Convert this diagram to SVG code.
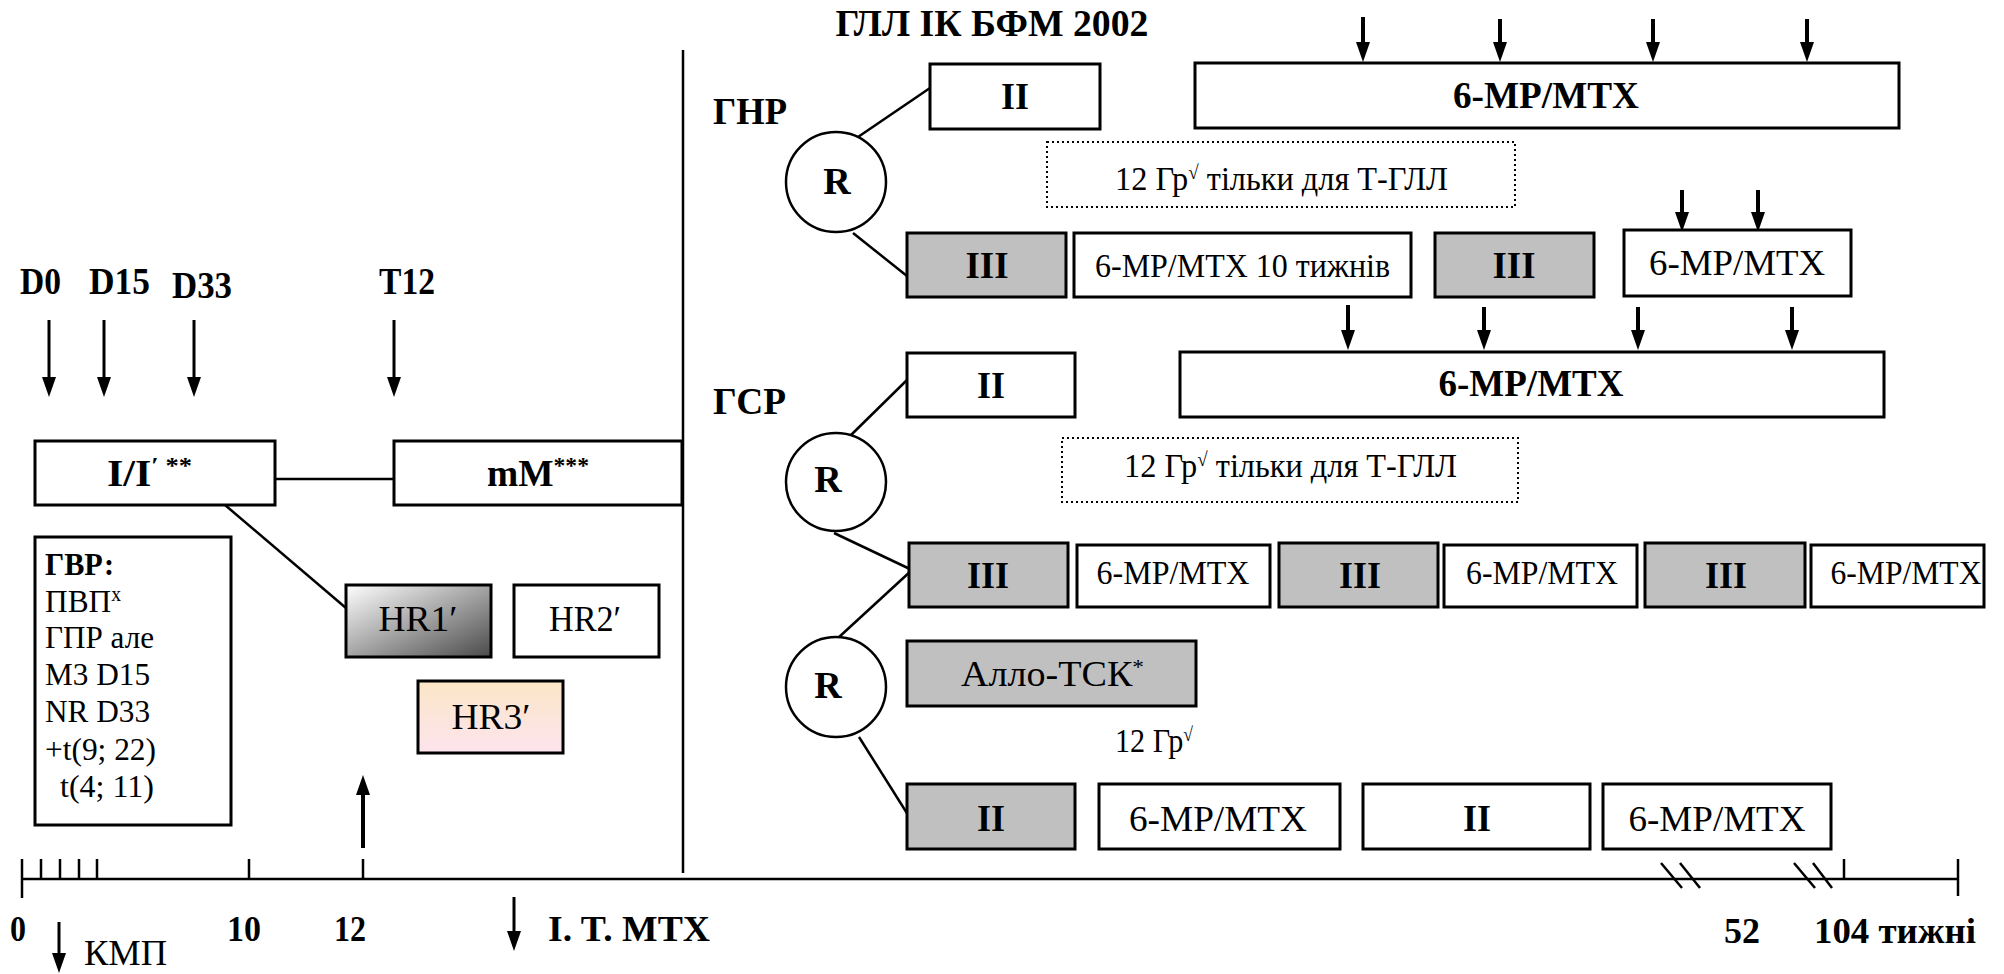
<svg xmlns="http://www.w3.org/2000/svg" width="2004" height="974" viewBox="0 0 2004 974">
<style>
.t{font-family:"Liberation Serif","Times New Roman",serif;fill:#000}
.b{font-weight:bold}
.box{fill:#fff;stroke:#000;stroke-width:3}
.gray{fill:#c0c0c0;stroke:#000;stroke-width:3}
.dot{fill:none;stroke:#000;stroke-width:2;stroke-dasharray:2 3}
.ln{stroke:#000;stroke-width:2.5;fill:none}
.ar{stroke:#000;stroke-width:3;fill:none;marker-end:url(#ah)}
.ar4{stroke:#000;stroke-width:4;fill:none;marker-end:url(#ah)}
.ell{fill:#fff;stroke:#000;stroke-width:2.5}
</style>
<defs>
<marker id="ah" markerUnits="userSpaceOnUse" viewBox="0 0 20 14" markerWidth="20" markerHeight="14" refX="14" refY="7" orient="auto">
<path d="M0,0 L20,7 L0,14 z" fill="#000"/>
</marker>
<linearGradient id="g1" x1="0" y1="0" x2="1" y2="1">
<stop offset="0" stop-color="#ffffff"/>
<stop offset="1" stop-color="#4a4a4a"/>
</linearGradient>
<linearGradient id="g3" x1="0" y1="0" x2="0" y2="1">
<stop offset="0" stop-color="#fbe6c6"/>
<stop offset="1" stop-color="#fde4ee"/>
</linearGradient>
</defs>
<rect width="2004" height="974" fill="#fff"/>

<g id="connectors">
<line class="ln" x1="683" y1="50" x2="683" y2="873"/>
<line class="ln" x1="275" y1="479" x2="394" y2="479"/>
<line class="ln" x1="225" y1="505" x2="346" y2="608"/>
<line class="ln" x1="858" y1="137" x2="930" y2="88"/>
<line class="ln" x1="853" y1="233" x2="912" y2="280"/>
<line class="ln" x1="849" y1="437" x2="907" y2="380"/>
<line class="ln" x1="834" y1="533" x2="912" y2="570"/>
<line class="ln" x1="912" y1="570" x2="838" y2="638"/>
<line class="ln" x1="859" y1="737" x2="910" y2="818"/>
<line class="ar" x1="49" y1="320" x2="49" y2="391"/>
<line class="ar" x1="104" y1="320" x2="104" y2="391"/>
<line class="ar" x1="194" y1="320" x2="194" y2="391"/>
<line class="ar" x1="394" y1="320" x2="394" y2="391"/>
<line class="ar4" x1="363" y1="848" x2="363" y2="781"/>
<line class="ar" x1="59" y1="922" x2="59" y2="967"/>
<line class="ar" x1="514" y1="897" x2="514" y2="945"/>
<line class="ar4" x1="1363" y1="17" x2="1363" y2="56"/>
<line class="ar4" x1="1500" y1="19" x2="1500" y2="56"/>
<line class="ar4" x1="1653" y1="19" x2="1653" y2="56"/>
<line class="ar4" x1="1807" y1="19" x2="1807" y2="56"/>
<line class="ar4" x1="1682" y1="190" x2="1682" y2="226"/>
<line class="ar4" x1="1758" y1="190" x2="1758" y2="226"/>
<line class="ar4" x1="1348" y1="305" x2="1348" y2="344"/>
<line class="ar4" x1="1484" y1="307" x2="1484" y2="344"/>
<line class="ar4" x1="1638" y1="307" x2="1638" y2="344"/>
<line class="ar4" x1="1792" y1="307" x2="1792" y2="344"/>
</g>

<g id="axis">
<line class="ln" x1="22" y1="879" x2="1958" y2="879" stroke-width="3"/>
<line class="ln" x1="22" y1="859" x2="22" y2="898"/>
<line class="ln" x1="41" y1="859" x2="41" y2="879"/>
<line class="ln" x1="60" y1="859" x2="60" y2="879"/>
<line class="ln" x1="79" y1="859" x2="79" y2="879"/>
<line class="ln" x1="97" y1="859" x2="97" y2="879"/>
<line class="ln" x1="249" y1="859" x2="249" y2="879"/>
<line class="ln" x1="363" y1="859" x2="363" y2="879"/>
<line class="ln" x1="1844" y1="859" x2="1844" y2="879"/>
<line class="ln" x1="1958" y1="859" x2="1958" y2="896"/>
<line class="ln" x1="1661" y1="863" x2="1682" y2="888"/>
<line class="ln" x1="1680" y1="863" x2="1700" y2="888"/>
<line class="ln" x1="1794" y1="863" x2="1815" y2="888"/>
<line class="ln" x1="1813" y1="863" x2="1832" y2="888"/>
<text class="t b" x="18" y="941" font-size="36" text-anchor="middle" textLength="16" lengthAdjust="spacingAndGlyphs">0</text>
<text class="t b" x="244" y="941" font-size="36" text-anchor="middle" textLength="34" lengthAdjust="spacingAndGlyphs">10</text>
<text class="t b" x="350" y="941" font-size="36" text-anchor="middle" textLength="32" lengthAdjust="spacingAndGlyphs">12</text>
<text class="t b" x="1742" y="943" font-size="36" text-anchor="middle" textLength="36" lengthAdjust="spacingAndGlyphs">52</text>
<text class="t b" x="1814" y="943" font-size="36" textLength="162" lengthAdjust="spacingAndGlyphs">104 тижні</text>
<text class="t" x="84" y="965" font-size="35" textLength="83" lengthAdjust="spacingAndGlyphs">КМП</text>
<text class="t b" x="548" y="941" font-size="36" textLength="162" lengthAdjust="spacingAndGlyphs">I. T. MTX</text>
</g>

<g id="labels">
<text class="t b" x="20" y="294" font-size="38" textLength="41" lengthAdjust="spacingAndGlyphs">D0</text>
<text class="t b" x="89" y="294" font-size="38" textLength="61" lengthAdjust="spacingAndGlyphs">D15</text>
<text class="t b" x="172" y="298" font-size="38" textLength="60" lengthAdjust="spacingAndGlyphs">D33</text>
<text class="t b" x="379" y="294" font-size="38" textLength="56" lengthAdjust="spacingAndGlyphs">T12</text>
<text class="t b" x="992" y="36" font-size="37" text-anchor="middle" textLength="313" lengthAdjust="spacingAndGlyphs">ГЛЛ ІК БФМ 2002</text>
<text class="t b" x="713" y="124" font-size="37" textLength="74" lengthAdjust="spacingAndGlyphs">ГНР</text>
<text class="t b" x="713" y="414" font-size="37" textLength="73" lengthAdjust="spacingAndGlyphs">ГСР</text>
</g>

<g id="node-induction">
<rect class="box" x="35" y="441" width="240" height="64"/>
<text class="t b" x="107" y="486" font-size="38" textLength="85" lengthAdjust="spacingAndGlyphs">I/I<tspan font-size="24" baseline-shift="super">′ **</tspan></text>
</g>
<g id="node-mM">
<rect class="box" x="394" y="441" width="288" height="64"/>
<text class="t b" x="487" y="486" font-size="38" textLength="102" lengthAdjust="spacingAndGlyphs">mM<tspan font-size="24" baseline-shift="super">***</tspan></text>
</g>
<g id="node-gvr">
<rect class="box" x="35" y="537" width="196" height="288"/>
<text class="t b" x="45" y="575" font-size="32" textLength="69" lengthAdjust="spacingAndGlyphs">ГВР:</text>
<text class="t" x="45" y="612" font-size="32" textLength="76" lengthAdjust="spacingAndGlyphs">ПВП<tspan font-size="20" baseline-shift="super">x</tspan></text>
<text class="t" x="45" y="648" font-size="32" textLength="109" lengthAdjust="spacingAndGlyphs">ГПР але</text>
<text class="t" x="45" y="685" font-size="32" textLength="105" lengthAdjust="spacingAndGlyphs">M3 D15</text>
<text class="t" x="45" y="722" font-size="32" textLength="105" lengthAdjust="spacingAndGlyphs">NR D33</text>
<text class="t" x="45" y="760" font-size="32" textLength="111" lengthAdjust="spacingAndGlyphs">+t(9; 22)</text>
<text class="t" x="60" y="797" font-size="32" textLength="94" lengthAdjust="spacingAndGlyphs">t(4; 11)</text>
</g>
<g id="node-hr1">
<rect x="346" y="585" width="145" height="72" fill="url(#g1)" stroke="#000" stroke-width="3"/>
<text class="t" x="418" y="631" font-size="36" text-anchor="middle" textLength="79" lengthAdjust="spacingAndGlyphs">HR1′</text>
</g>
<g id="node-hr2">
<rect class="box" x="514" y="585" width="145" height="72"/>
<text class="t" x="585" y="631" font-size="36" text-anchor="middle" textLength="72" lengthAdjust="spacingAndGlyphs">HR2′</text>
</g>
<g id="node-hr3">
<rect x="418" y="681" width="145" height="72" fill="url(#g3)" stroke="#000" stroke-width="3"/>
<text class="t" x="491" y="729" font-size="36" text-anchor="middle" textLength="79" lengthAdjust="spacingAndGlyphs">HR3′</text>
</g>

<g id="node-r1">
<ellipse class="ell" cx="836" cy="182" rx="50" ry="50"/>
<text class="t b" x="837" y="194" font-size="38" text-anchor="middle">R</text>
</g>
<g id="node-snr-ii">
<rect class="box" x="930" y="64" width="170" height="65"/>
<text class="t b" x="1015" y="109" font-size="38" text-anchor="middle" textLength="28" lengthAdjust="spacingAndGlyphs">II</text>
</g>
<g id="node-snr-mt">
<rect class="box" x="1195" y="63" width="704" height="65"/>
<text class="t b" x="1546" y="108" font-size="37" text-anchor="middle" textLength="186" lengthAdjust="spacingAndGlyphs">6-MP/MTX</text>
</g>
<g id="node-snr-rt">
<rect class="dot" x="1047" y="142" width="468" height="65"/>
<text class="t" x="1115" y="190" font-size="34" textLength="333" lengthAdjust="spacingAndGlyphs">12 Гр<tspan font-size="20" baseline-shift="super">√</tspan> тільки для Т-ГЛЛ</text>
</g>
<g id="node-snr-iii1">
<rect class="gray" x="907" y="233" width="159" height="64"/>
<text class="t b" x="987" y="278" font-size="38" text-anchor="middle" textLength="43" lengthAdjust="spacingAndGlyphs">III</text>
</g>
<g id="node-snr-mt10">
<rect class="box" x="1074" y="233" width="337" height="64"/>
<text class="t" x="1095" y="277" font-size="33" textLength="295" lengthAdjust="spacingAndGlyphs">6-MP/MTX 10 тижнів</text>
</g>
<g id="node-snr-iii2">
<rect class="gray" x="1435" y="233" width="159" height="64"/>
<text class="t b" x="1514" y="278" font-size="38" text-anchor="middle" textLength="43" lengthAdjust="spacingAndGlyphs">III</text>
</g>
<g id="node-snr-mt2">
<rect class="box" x="1624" y="230" width="227" height="66"/>
<text class="t" x="1737" y="275" font-size="35" text-anchor="middle" textLength="176" lengthAdjust="spacingAndGlyphs">6-MP/MTX</text>
</g>

<g id="node-r2">
<ellipse class="ell" cx="836" cy="482" rx="50" ry="49"/>
<text class="t b" x="828" y="492" font-size="38" text-anchor="middle">R</text>
</g>
<g id="node-mr-ii">
<rect class="box" x="907" y="353" width="168" height="64"/>
<text class="t b" x="991" y="398" font-size="38" text-anchor="middle" textLength="28" lengthAdjust="spacingAndGlyphs">II</text>
</g>
<g id="node-mr-mt">
<rect class="box" x="1180" y="352" width="704" height="65"/>
<text class="t b" x="1531" y="396" font-size="37" text-anchor="middle" textLength="185" lengthAdjust="spacingAndGlyphs">6-MP/MTX</text>
</g>
<g id="node-mr-rt">
<rect class="dot" x="1062" y="438" width="456" height="64"/>
<text class="t" x="1124" y="477" font-size="34" textLength="333" lengthAdjust="spacingAndGlyphs">12 Гр<tspan font-size="20" baseline-shift="super">√</tspan> тільки для Т-ГЛЛ</text>
</g>
<g id="node-mr-row">
<rect class="gray" x="909" y="543" width="159" height="64"/>
<text class="t b" x="988" y="588" font-size="38" text-anchor="middle" textLength="42" lengthAdjust="spacingAndGlyphs">III</text>
<rect class="box" x="1077" y="545" width="193" height="62"/>
<text class="t" x="1173" y="584" font-size="33" text-anchor="middle" textLength="153" lengthAdjust="spacingAndGlyphs">6-MP/MTX</text>
<rect class="gray" x="1279" y="543" width="159" height="64"/>
<text class="t b" x="1360" y="588" font-size="38" text-anchor="middle" textLength="42" lengthAdjust="spacingAndGlyphs">III</text>
<rect class="box" x="1444" y="545" width="193" height="62"/>
<text class="t" x="1542" y="584" font-size="33" text-anchor="middle" textLength="152" lengthAdjust="spacingAndGlyphs">6-MP/MTX</text>
<rect class="gray" x="1645" y="543" width="160" height="64"/>
<text class="t b" x="1726" y="588" font-size="38" text-anchor="middle" textLength="42" lengthAdjust="spacingAndGlyphs">III</text>
<rect class="box" x="1811" y="545" width="173" height="62"/>
<text class="t" x="1906" y="584" font-size="33" text-anchor="middle" textLength="151" lengthAdjust="spacingAndGlyphs">6-MP/MTX</text>
</g>
<g id="node-r3">
<ellipse class="ell" cx="836" cy="687" rx="50" ry="50"/>
<text class="t b" x="828" y="698" font-size="38" text-anchor="middle">R</text>
</g>
<g id="node-allo">
<rect class="gray" x="907" y="641" width="289" height="65"/>
<text class="t" x="961" y="686" font-size="36" textLength="183" lengthAdjust="spacingAndGlyphs">Алло-ТСК<tspan font-size="22" baseline-shift="super">*</tspan></text>
</g>
<g id="node-12gy">
<text class="t" x="1115" y="752" font-size="34" textLength="78" lengthAdjust="spacingAndGlyphs">12 Гр<tspan font-size="20" baseline-shift="super">√</tspan></text>
</g>
<g id="node-mr-row4">
<rect class="gray" x="907" y="784" width="168" height="65"/>
<text class="t b" x="991" y="831" font-size="38" text-anchor="middle" textLength="28" lengthAdjust="spacingAndGlyphs">II</text>
<rect class="box" x="1099" y="784" width="241" height="65"/>
<text class="t" x="1218" y="831" font-size="36" text-anchor="middle" textLength="178" lengthAdjust="spacingAndGlyphs">6-MP/MTX</text>
<rect class="box" x="1363" y="784" width="227" height="65"/>
<text class="t b" x="1477" y="831" font-size="38" text-anchor="middle" textLength="28" lengthAdjust="spacingAndGlyphs">II</text>
<rect class="box" x="1603" y="784" width="228" height="65"/>
<text class="t" x="1717" y="831" font-size="35" text-anchor="middle" textLength="177" lengthAdjust="spacingAndGlyphs">6-MP/MTX</text>
</g>
</svg>
